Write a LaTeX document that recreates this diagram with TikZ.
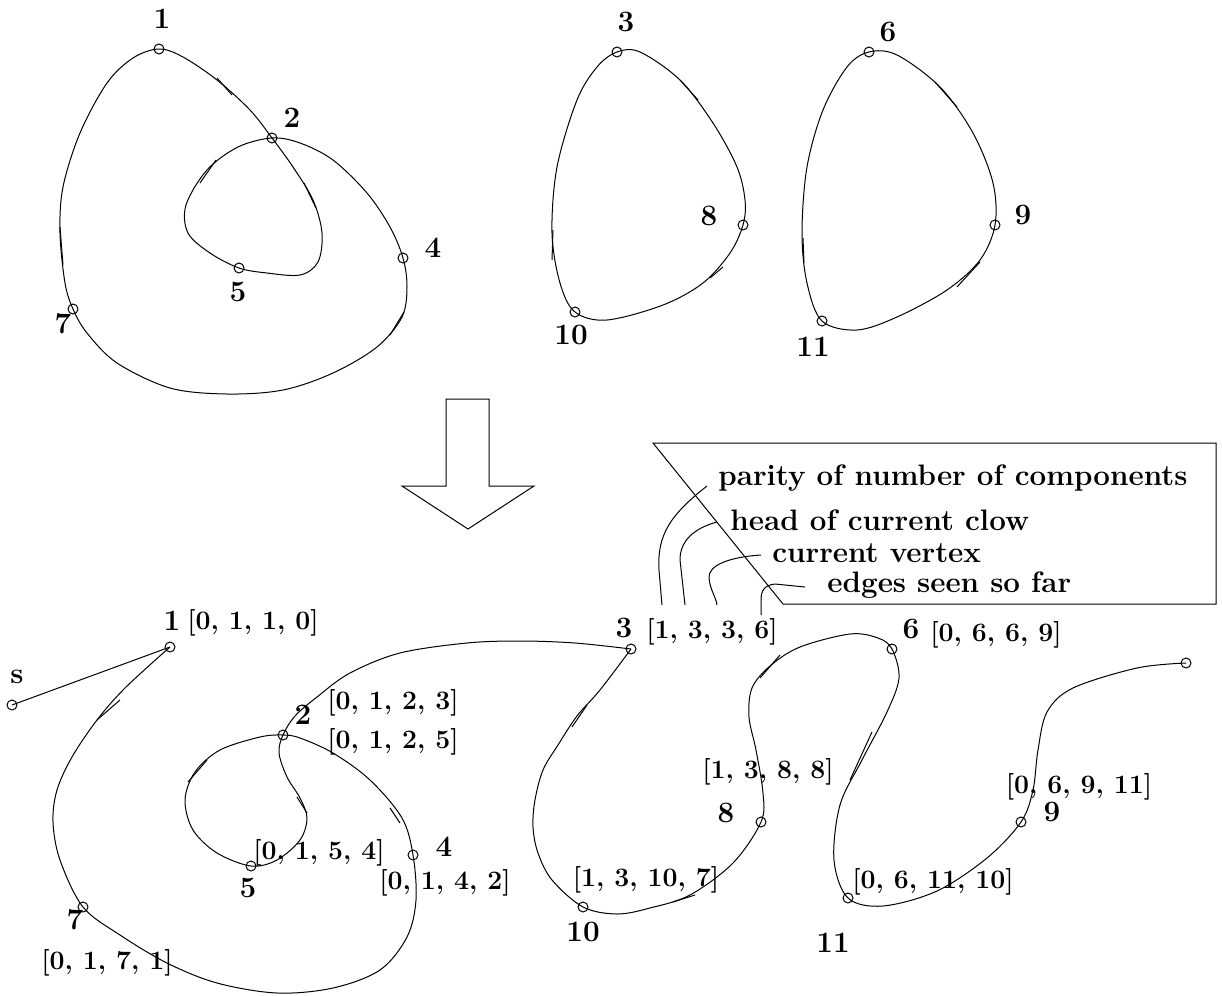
\documentclass[tikz,border=0pt]{standalone}
\begin{document}
\begin{tikzpicture}[x=0.5pt,y=-0.5pt,
  curve/.style={line width=0.5pt},
  vtx/.style={circle,draw,line width=0.5pt,inner sep=0pt,minimum size=5pt},
  num/.style={font=\fontsize{14.8}{16}\selectfont\bfseries,inner sep=0pt},
  lab/.style={font=\fontsize{13.3}{15}\selectfont\bfseries,inner sep=0pt},
  leg/.style={font=\fontsize{14.8}{16}\selectfont\bfseries,inner sep=0pt,anchor=west},
  tick/.style={line width=0.5pt}]
\useasboundingbox (0,0) rectangle (1222,996);

% ---------- top: three closed curves ----------
\coordinate (a1) at (159,49);
\coordinate (a2) at (272,138);
\coordinate (a4) at (403,258);
\coordinate (a5) at (239,268);
\coordinate (a7) at (73,309);
\coordinate (a3) at (617,52);
\coordinate (a8) at (743,225);
\coordinate (a10) at (575,312);
\coordinate (a6) at (869,52);
\coordinate (a9) at (995,225);
\coordinate (a11) at (822,321);

\draw[curve] plot[smooth cycle,tension=0.55] coordinates {(a1) (183,57) (217,80) (250,110) (a2) (293,167) (313,200) (322,233) (318,262) (300,275) (267,273) (a5) (210,253) (188,233) (186,205) (207,170) (238,147) (a2) (300,143) (333,160) (367,193) (390,227) (a4) (407,287) (402,317) (377,347) (333,373) (283,390) (227,394) (170,388) (117,363) (87,333) (a7) (65,283) (60,233) (63,187) (80,133) (107,83) (133,58)};

\draw[curve] plot[smooth cycle,tension=0.55] coordinates {(a3) (640,52) (680,80) (713,123) (737,167) (745,200) (a8) (730,253) (703,283) (663,305) (607,320) (a10) (560,283) (552,233) (557,167) (577,100) (597,67)};

\draw[curve] plot[smooth cycle,tension=0.55] coordinates {(a6) (897,55) (940,87) (973,133) (993,183) (a9) (980,260) (947,290) (897,317) (857,330) (a11) (807,283) (802,233) (807,167) (823,110) (847,67)};

\foreach \n in {a1,a2,a4,a5,a7,a3,a8,a10,a6,a9,a11} \node[vtx] (v\n) at (\n) {};

% small tangent marks
\draw[tick] (217,78) -- (232,95);
\draw[tick] (304,183) -- (316,208);
\draw[tick] (200,183) -- (216,160);
\draw[tick] (60,227) -- (63,265);
\draw[tick] (390,335) -- (404,312);
\draw[tick] (680,80) -- (698,100);
\draw[tick] (553,230) -- (552,260);
\draw[tick] (723,267) -- (710,278);
\draw[tick] (935,82) -- (957,107);
\draw[tick] (803,238) -- (804,263);
\draw[tick] (980,262) -- (957,287);

\node[num] (t1) at (162,19) {1};
\node[num] (t2) at (292,118) {2};
\node[num] (t4) at (433,248) {4};
\node[num] (t5) at (238,292) {5};
\node[num] (t7) at (63,324) {7};
\node[num] (t3) at (626,22) {3};
\node[num] (t8) at (709,216) {8};
\node[num] (t10) at (571,335) {10};
\node[num] (t6) at (888,32) {6};
\node[num] (t9) at (1023,215) {9};
\node[num] (t11) at (813,347) {11};

% ---------- big hollow arrow ----------
\draw[line width=0.5pt] (446,399) -- (489,399) -- (489,486) -- (534,486) -- (468,529) -- (402,486) -- (446,486) -- cycle;

% ---------- legend ----------
\draw[line width=0.5pt] (653,443) -- (1216,443) -- (1216,604) -- (783,604) -- cycle;
\node[leg] (l1) at (718,478) {parity of number of components};
\node[leg] (l2) at (730,520) {head of current clow};
\node[leg] (l3) at (772,553) {current vertex};
\node[leg] (l4) at (827,585) {edges seen so far};
\coordinate (e1) at (662,605);
\coordinate (e2) at (685,605);
\coordinate (e3) at (717,605);
\coordinate (e4) at (761,615);
\draw[line width=0.5pt] ([xshift=-5.5pt,yshift=-4pt]l1.west) .. controls (670,515) and (657,535) .. (659,570) -- (e1);
\draw[line width=0.5pt] ([xshift=-6.5pt,yshift=-1pt]l2.west) .. controls (695,528) and (680,540) .. (680,560) -- (e2);
\draw[line width=0.5pt] ([xshift=-5.5pt,yshift=-1pt]l3.west) .. controls (730,557) and (708,565) .. (709,578) .. controls (710,590) and (716,597) .. (e3);
\draw[line width=0.5pt] ([xshift=-11pt,yshift=-1pt]l4.west) -- (775,584) .. controls (765,585) and (761,590) .. (761,600) -- (e4);

% ---------- bottom: the walk ----------
\coordinate (bs) at (12,705);
\coordinate (b1) at (170,647);
\coordinate (b2) at (283,735);
\coordinate (b5) at (251,866);
\coordinate (b4) at (413,855);
\coordinate (b7) at (83,907);
\coordinate (b3) at (631,649);
\coordinate (b10) at (583,907);
\coordinate (b8) at (761,822);
\coordinate (b6) at (892,649);
\coordinate (b11) at (848,898);
\coordinate (b9) at (1021,822);
\coordinate (be) at (1186,663);

\draw[curve] (bs) -- (b1);
\draw[curve] plot[smooth,tension=0.55] coordinates {(b1) (125,688) (97,720) (72,757) (57,790) (53,822) (60,860) (b7) (120,935) (167,963) (217,983) (277,993) (333,988) (380,970) (407,937) (416,900) (b4) (402,818) (370,780) (333,753) (300,738) (b2) (260,737) (220,750) (195,772) (185,800) (193,830) (217,853) (b5) (277,860) (300,840) (307,818) (300,798) (287,777) (279,753) (b2) (295,716) (317,697) (350,673) (400,653) (467,643) (520,641) (575,643) (b3)};
\draw[curve] plot[smooth,tension=0.55] coordinates {(b3) (600,690) (577,716) (558,745) (543,770) (535,800) (533,827) (538,853) (552,880) (b10) (617,914) (650,908) (690,895) (733,863) (b8) (763,793) (756,750) (749,717) (752,688) (770,666) (800,647) (850,634) (878,638) (b6) (899,678) (887,712) (862,760) (840,805) (834,860) (b11) (883,906) (937,891) (987,858) (b9) (1033,790) (1038,750) (1047,712) (1073,688) (1137,668) (be)};

\foreach \n in {bs,b1,b2,b5,b4,b7,b3,b10,b8,b6,b11,b9,be} \node[vtx] (v\n) at (\n) {};

% small tangent marks
\draw[tick] (97,720) -- (120,700);
\draw[tick] (188,782) -- (207,760);
\draw[tick] (297,797) -- (307,813);
\draw[tick] (390,808) -- (400,823);
\draw[tick] (572,727) -- (587,705);
\draw[tick] (673,902) -- (695,895);
\draw[tick] (760,678) -- (780,655);
\draw[tick] (850,780) -- (872,732);

\node[num] (s) at (17,677) {s};
\node[num] (u1) at (172,621) {1};
\node[lab] (k1) at (253,623) {[0, 1, 1, 0]};
\node[num] (u2) at (303,715) {2};
\node[lab] (k2a) at (393,703) {[0, 1, 2, 3]};
\node[lab] (k2b) at (393,742) {[0, 1, 2, 5]};
\node[num] (u5) at (248,888) {5};
\node[lab] (k5) at (319,853) {[0, 1, 5, 4]};
\node[num] (u4) at (444,847) {4};
\node[lab] (k4) at (445,883) {[0, 1, 4, 2]};
\node[num] (u7) at (75,920) {7};
\node[lab] (k7) at (107,963) {[0, 1, 7, 1]};
\node[num] (u3) at (624,628) {3};
\node[lab] (k3) at (712,632) {[1, 3, 3, 6]};
\node[num] (u8) at (726,813) {8};
\node[lab] (k8) at (768,772) {[1, 3, 8, 8]};
\node[num] (u10) at (583,932) {10};
\node[lab] (k10) at (646,880) {[1, 3, 10, 7]};
\node[num] (u11) at (833,943) {11};
\node[num] (u6) at (911,629) {6};
\node[lab] (k6) at (996,635) {[0, 6, 6, 9]};
\node[num] (u9) at (1052,812) {9};
\node[lab] (k9) at (1079,787) {[0, 6, 9, 11]};
\node[lab] (k11) at (933,882) {[0, 6, 11, 10]};
\end{tikzpicture}
\end{document}
